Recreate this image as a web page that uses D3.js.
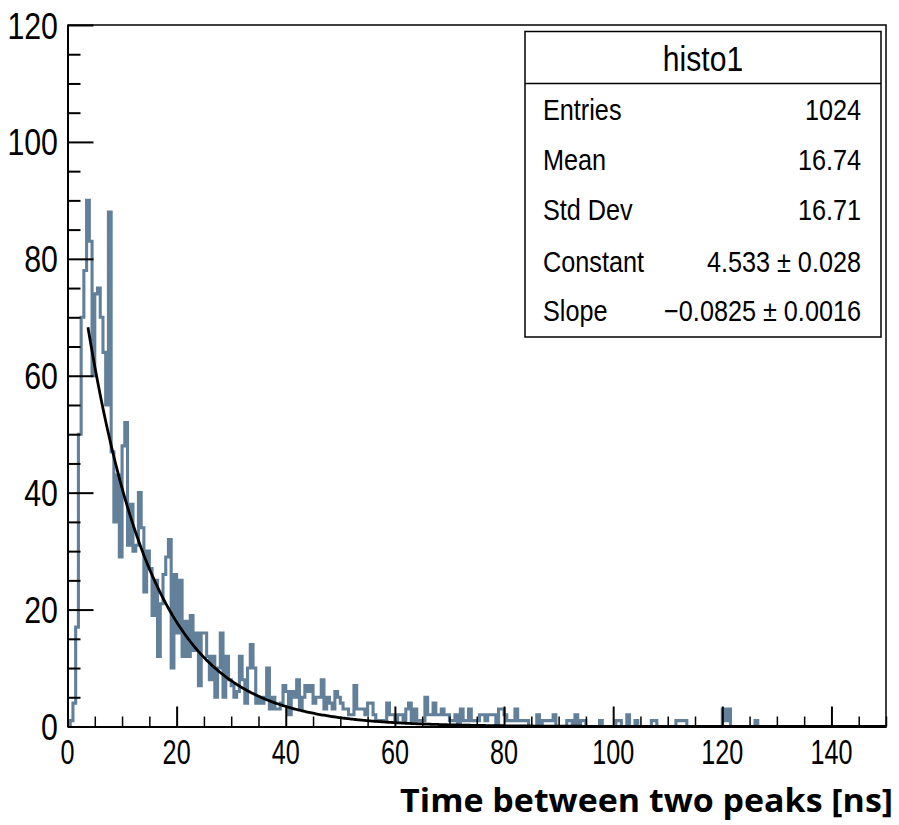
<!DOCTYPE html>
<html>
<head>
<meta charset="utf-8">
<script src="https://cdn.jsdelivr.net/npm/d3@7"></script>
<style>
  body { margin: 0; background: #fff; }
  svg { display: block; }
</style>
</head>
<body>
<svg id="chart" width="899" height="825"></svg>
<script>
// ---- histogram definition: 0.5 ns bins from 0 to 150 ns ----
const binWidth = 0.5;
const xDomain = [0, 150];
const yDomain = [0, 120];

// counts per bin, 20 bins (10 ns) per row
const counts = [
  0, 1, 4, 17, 50, 70, 78, 90, 83, 60, 74, 75, 70, 64, 55, 88, 47, 35, 43, 29,
  48, 52, 31, 38, 30, 31, 40, 34, 23, 30, 27, 19, 25, 12, 21, 26, 29, 32, 10, 26,
  16, 25, 12, 18, 12, 19, 13, 16, 7, 16, 16, 12, 8, 12, 5, 10, 16, 5, 12, 8,
  7, 5, 6, 12, 8, 4, 10, 14, 10, 4, 5, 4, 5, 10, 3, 5, 3, 3, 4, 7,
  6, 2, 6, 5, 8, 3, 5, 7, 6, 7, 4, 5, 5, 8, 3, 5, 4, 3, 6, 5,
  4, 3, 3, 2, 2, 7, 3, 3, 3, 2, 4, 4, 2, 1, 1, 1, 1, 4, 2, 2,
  1, 2, 2, 1, 3, 4, 1, 3, 1, 1, 1, 5, 2, 2, 4, 2, 2, 3, 2, 2,
  1, 1, 2, 0, 3, 1, 1, 3, 1, 1, 1, 2, 2, 1, 2, 2, 2, 0, 3, 3,
  2, 1, 1, 1, 3, 1, 1, 1, 1, 0, 0, 0, 2, 0, 1, 1, 1, 1, 2, 0,
  0, 0, 0, 1, 1, 0, 2, 0, 1, 1, 0, 0, 0, 0, 0, 1, 0, 0, 0, 0,
  0, 1, 1, 0, 0, 2, 0, 0, 1, 0, 0, 0, 0, 0, 1, 1, 0, 0, 0, 0,
  0, 0, 0, 1, 1, 1, 1, 0, 0, 0, 0, 0, 0, 0, 0, 0, 0, 0, 0, 0,
  3, 1, 3, 0, 0, 0, 0, 0, 0, 0, 0, 0, 1, 0, 0, 0, 0, 0, 0, 0,
  0, 0, 0, 0, 0, 0, 0, 0, 0, 0, 0, 0, 0, 0, 0, 0, 0, 0, 0, 0,
  0, 0, 0, 0, 0, 0, 0, 0, 0, 0, 0, 0, 0, 0, 0, 0, 0, 0, 0, 0
];

// exponential fit  f(x) = exp(Constant + Slope * x)
const fitConstant = 4.533;
const fitSlope = -0.0825;
const fitRange = [3.75, 150];

// axis ticks
const xMajorTicks = [0, 20, 40, 60, 80, 100, 120, 140];
const yMajorTicks = [0, 20, 40, 60, 80, 100, 120];
const minorStep = 5;

// statistics box
const statsTitle = "histo1";
const statsLabels = ["Entries", "Mean", "Std Dev", "Constant", "Slope"];
const statsValues = ["1024", "16.74", "16.71", "4.533 \u00b1 0.028", "\u22120.0825 \u00b1 0.0016"];

const xTitle = "Time between two peaks [ns]";

// ---- layout ----
const frame = { left: 67.5, right: 886, top: 25, bottom: 726.5 };
const histColor = "#62809a";

const svg = d3.select("#chart");

const x = d3.scaleLinear().domain(xDomain).range([frame.left, frame.right]);
const y = d3.scaleLinear().domain(yDomain).range([frame.bottom, frame.top]);

// helper: text with horizontal squeeze (condensed look)
function label(parent, str, px, py, opt) {
  const g = parent.append("g").attr("transform", `translate(${px},${py})`);
  const t = g.append("text")
    .text(str)
    .attr("text-anchor", opt.anchor || "start")
    .attr("font-family", opt.family || "'Liberation Sans', Arial, sans-serif")
    .attr("font-size", opt.size)
    .attr("font-weight", opt.weight || 400)
    .attr("fill", "#000");
  let sx = opt.sx || 1;
  if (opt.width) sx = opt.width / t.node().getComputedTextLength();
  t.attr("transform", `scale(${sx},1)`);
  return t;
}

// clip for plot area
svg.append("defs").append("clipPath").attr("id", "plotClip")
  .append("rect")
  .attr("x", frame.left).attr("y", frame.top)
  .attr("width", frame.right - frame.left).attr("height", frame.bottom - frame.top);

// ---- histogram outline (step) ----
const stepPts = [[xDomain[0], 0]];
counts.forEach((c, i) => {
  const lo = xDomain[0] + i * binWidth;
  stepPts.push([lo, c], [lo + binWidth, c]);
});
stepPts.push([xDomain[0] + counts.length * binWidth, 0]);

const line = d3.line().x(d => x(d[0])).y(d => y(d[1]));

svg.append("path")
  .datum(stepPts)
  .attr("clip-path", "url(#plotClip)")
  .attr("d", line)
  .attr("fill", "none")
  .attr("stroke", histColor)
  .attr("stroke-width", 3.1)
  .attr("stroke-linejoin", "miter");

// ---- fit curve ----
const fitPts = d3.range(fitRange[0], fitRange[1] + 1e-9, 0.25)
  .map(v => [v, Math.exp(fitConstant + fitSlope * v)]);
svg.append("path")
  .datum(fitPts)
  .attr("clip-path", "url(#plotClip)")
  .attr("d", line)
  .attr("fill", "none")
  .attr("stroke", "#000")
  .attr("stroke-width", 2.8);

// ---- frame (top and right edges) ----
svg.append("path")
  .attr("d", `M${frame.left},${frame.top}H${frame.right}V${frame.bottom}`)
  .attr("fill", "none").attr("stroke", "#000").attr("stroke-width", 1.5);

// ---- axes ----
const xMinor = d3.range(xDomain[0], xDomain[1] + 1e-9, minorStep).filter(v => v % 20 !== 0);
const yMinor = d3.range(yDomain[0], yDomain[1] + 1e-9, minorStep).filter(v => v % 20 !== 0);

function styleAxis(g, w) {
  g.selectAll("path").attr("stroke", "#000").attr("stroke-width", w);
  g.selectAll("line").attr("stroke", "#000").attr("stroke-width", w);
  g.selectAll("text").remove();
}

svg.append("g").attr("transform", `translate(0,${frame.bottom})`)
  .call(d3.axisBottom(x).tickValues(xMinor).tickSize(-10).tickSizeOuter(0).tickFormat(""))
  .call(g => styleAxis(g, 1.5));
svg.append("g").attr("transform", `translate(0,${frame.bottom})`)
  .call(d3.axisBottom(x).tickValues(xMajorTicks).tickSize(-20).tickSizeOuter(0).tickFormat(""))
  .call(g => styleAxis(g, 2));

svg.append("g").attr("transform", `translate(${frame.left},0)`)
  .call(d3.axisLeft(y).tickValues(yMinor).tickSize(-13).tickSizeOuter(0).tickFormat(""))
  .call(g => styleAxis(g, 2));
svg.append("g").attr("transform", `translate(${frame.left},0)`)
  .call(d3.axisLeft(y).tickValues(yMajorTicks).tickSize(-26).tickSizeOuter(0).tickFormat(""))
  .call(g => styleAxis(g, 2));

// tick labels
const labelLayer = svg.append("g");
yMajorTicks.forEach(v => {
  label(labelLayer, String(v), 58, y(v) + 13.5, { size: 37, sx: 0.82, anchor: "end" });
});
xMajorTicks.forEach(v => {
  label(labelLayer, String(v), x(v), 764, { size: 35, sx: 0.72, anchor: "middle" });
});

// ---- statistics box ----
const box = { x: 525, y: 31.5, w: 356, h: 305.5, header: 83.5 };
const stats = svg.append("g");
stats.append("rect")
  .attr("x", box.x).attr("y", box.y).attr("width", box.w).attr("height", box.h)
  .attr("fill", "#fff").attr("stroke", "#000").attr("stroke-width", 1.5);
stats.append("line")
  .attr("x1", box.x).attr("x2", box.x + box.w)
  .attr("y1", box.header).attr("y2", box.header)
  .attr("stroke", "#000").attr("stroke-width", 1.5);

label(stats, statsTitle, box.x + box.w / 2, 71, { size: 35, sx: 0.86, anchor: "middle" });
const rowBase = [120, 170, 220, 272, 321];
statsLabels.forEach((s, i) => {
  label(stats, s, 543, rowBase[i], { size: 29, sx: 0.87 });
  label(stats, statsValues[i], 861, rowBase[i], { size: 29, sx: 0.87, anchor: "end" });
});

// ---- x axis title ----
label(svg, xTitle, 893, 812, {
  size: 32, weight: 700, family: "'Open Sans', 'Noto Sans', sans-serif",
  anchor: "end", width: 493
});
</script>
</body>
</html>
